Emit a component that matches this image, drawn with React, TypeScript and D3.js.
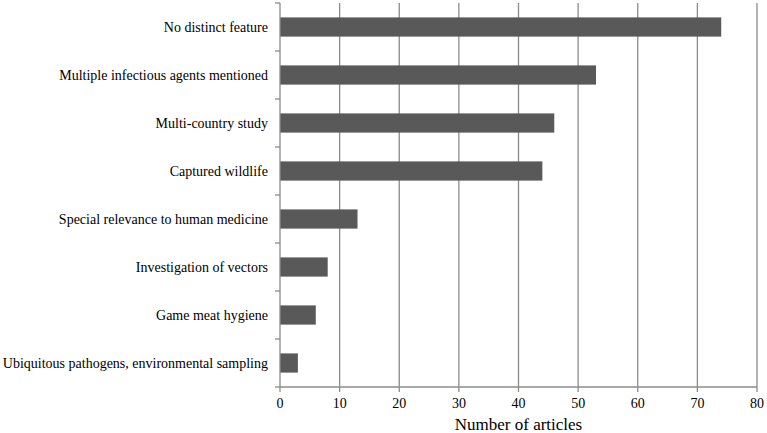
import { useEffect } from "react";
import * as d3 from "d3";

const W = 767;
const H = 433;
const MARGIN = { top: 3, right: 10, bottom: 46, left: 280 };
const INNER_W = W - MARGIN.left - MARGIN.right;
const INNER_H = H - MARGIN.top - MARGIN.bottom;

const CATEGORIES = [
  "No distinct feature",
  "Multiple infectious agents mentioned",
  "Multi-country study",
  "Captured wildlife",
  "Special relevance to human medicine",
  "Investigation of vectors",
  "Game meat hygiene",
  "Ubiquitous pathogens, environmental sampling",
];
const ARTICLES = [74, 53, 46, 44, 13, 8, 6, 3];
const X_TICKS = [0, 10, 20, 30, 40, 50, 60, 70, 80];

const FONT = '"Liberation Serif", "Times New Roman", serif';
const BAR = "#595959";
const GRID = "#8c8c8c";

export default function App() {
  useEffect(() => {
    document.body.style.margin = "0";
  }, []);

  const x = d3.scaleLinear().domain([0, 80]).range([0, INNER_W]);
  const y = d3
    .scaleBand<string>()
    .domain(CATEGORIES)
    .range([0, INNER_H])
    .paddingInner(0.6)
    .paddingOuter(0.3);
  const step = y.step();

  const rows = CATEGORIES.map((c, i) => ({ label: c, value: ARTICLES[i] }));

  return (
    <svg width={W} height={H} style={{ display: "block", background: "#fff" }}>
      <g transform={`translate(${MARGIN.left},${MARGIN.top})`}>
        {/* vertical gridlines */}
        {X_TICKS.filter((t) => t > 0).map((t) => (
          <line
            key={`g${t}`}
            x1={x(t)}
            x2={x(t)}
            y1={0}
            y2={INNER_H}
            stroke={GRID}
            strokeWidth={1.3}
          />
        ))}

        {/* bars */}
        {rows.map((r) => (
          <rect
            key={r.label}
            x={x(0)}
            y={y(r.label)}
            width={x(r.value) - x(0)}
            height={y.bandwidth()}
            fill={BAR}
          />
        ))}

        {/* y axis */}
        <line x1={0} x2={0} y1={0} y2={INNER_H} stroke={GRID} strokeWidth={1.3} />
        {d3.range(CATEGORIES.length + 1).map((i) => (
          <line
            key={`yt${i}`}
            x1={-5}
            x2={0}
            y1={i * step}
            y2={i * step}
            stroke={GRID}
            strokeWidth={1.3}
          />
        ))}
        {rows.map((r) => (
          <text
            key={`l${r.label}`}
            x={-12}
            y={(y(r.label) ?? 0) + y.bandwidth() / 2}
            dy="0.35em"
            textAnchor="end"
            fontFamily={FONT}
            fontSize={14}
            fill="#000"
          >
            {r.label}
          </text>
        ))}

        {/* x axis */}
        <line x1={0} x2={INNER_W} y1={INNER_H} y2={INNER_H} stroke={GRID} strokeWidth={1.3} />
        {X_TICKS.map((t) => (
          <g key={`xt${t}`} transform={`translate(${x(t)},${INNER_H})`}>
            <line y1={0} y2={5} stroke={GRID} strokeWidth={1.3} />
            <text
              y={21}
              textAnchor="middle"
              fontFamily={FONT}
              fontSize={14}
              fill="#000"
            >
              {t}
            </text>
          </g>
        ))}
        <text
          x={INNER_W / 2}
          y={INNER_H + 43}
          textAnchor="middle"
          fontFamily={FONT}
          fontSize={17}
          fill="#000"
        >
          Number of articles
        </text>
      </g>
    </svg>
  );
}
